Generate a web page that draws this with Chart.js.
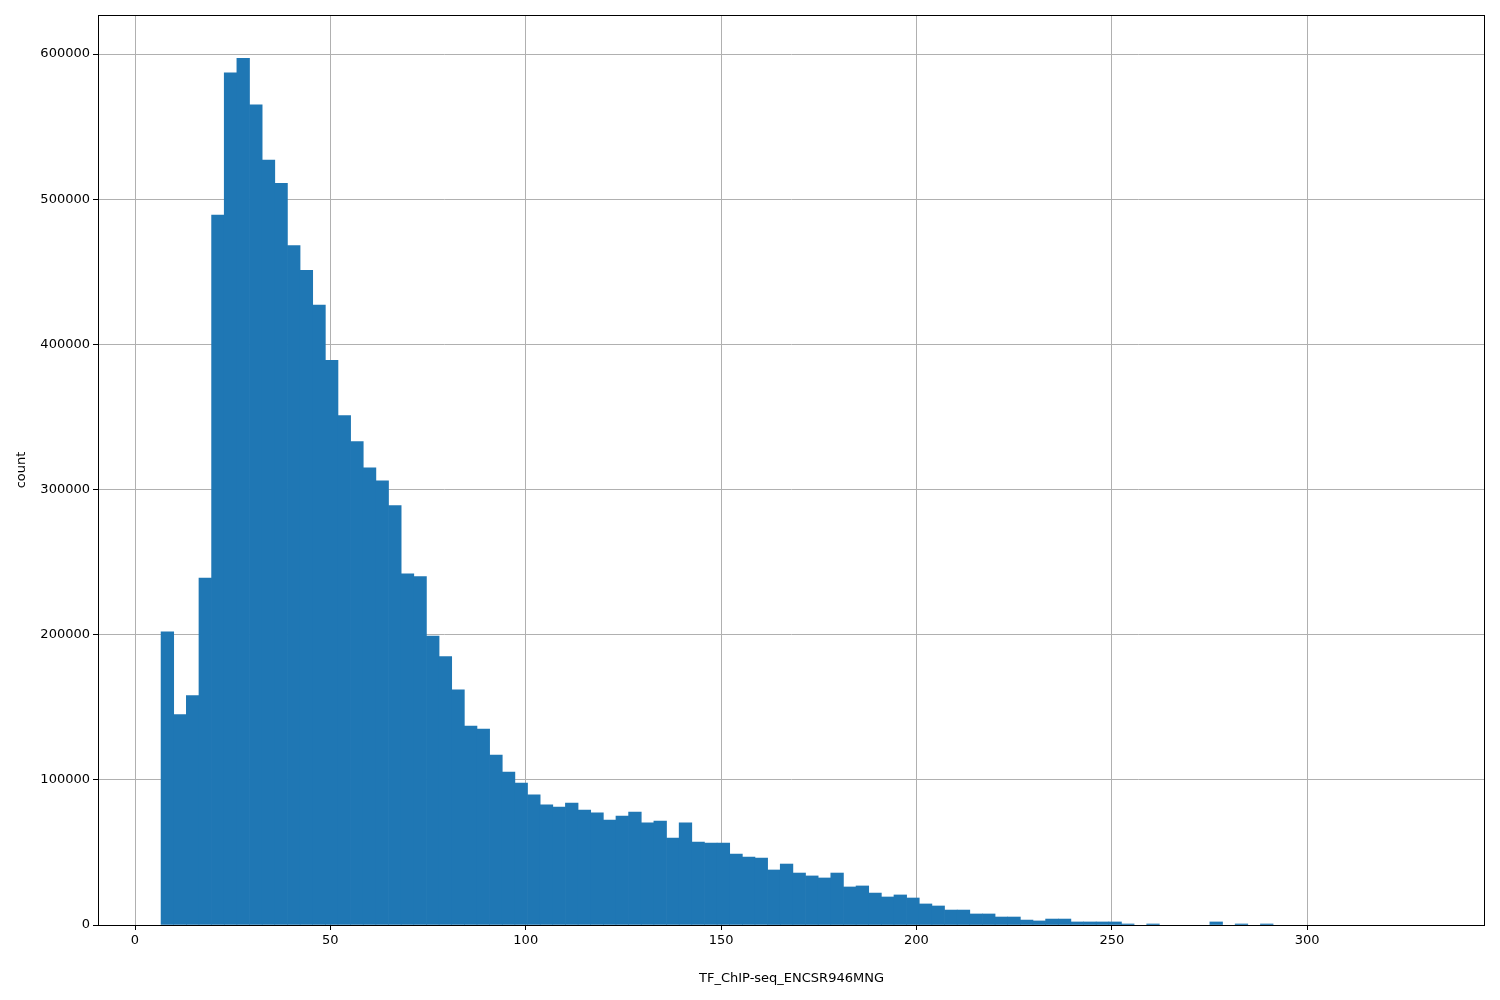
<!DOCTYPE html>
<html>
<head>
<script src="https://cdn.jsdelivr.net/npm/chart.js@4"></script>
<style>
  body { margin: 0; background: #fff; }
  #wrap { width: 1500px; height: 1000px; }
</style>
</head>
<body>
<div id="wrap"><canvas id="histChart"></canvas></div>
<script>
// histogram: 100 bins starting at binStart, each binWidth wide
const binStart = 6.67;
const binWidth = 3.234;
const counts = [
  202000, 145000, 158000, 239000, 489000, 587000, 597000, 565000, 527000, 511000,
  468000, 451000, 427000, 389000, 351000, 333000, 315000, 306000, 289000, 242000,
  240000, 199000, 185000, 162000, 137000, 135000, 117000, 105400, 97800, 89600,
  82700, 81300, 84000, 79200, 77200, 72300, 75100, 77800, 70300, 71600,
  59900, 70300, 57200, 56500, 56500, 48900, 46800, 46100, 37900, 42000,
  35800, 33800, 32400, 35800, 26200, 26900, 22000, 19300, 20700, 18600,
  14500, 13100, 10300, 10300, 7600, 7600, 5500, 5500, 3400, 2800,
  4100, 4100, 2100, 2100, 2100, 2100, 700, 0, 700, 0,
  0, 0, 0, 2100, 0, 700, 0, 700, 0, 0,
  0, 0, 0, 0, 0, 0, 0, 0, 0, 0
];
const xTicks = [0, 50, 100, 150, 200, 250, 300];
const yTicks = [0, 100000, 200000, 300000, 400000, 500000, 600000];

const font = { family: 'DejaVu Sans', size: 13 };

const frame = {
  id: 'frame',
  afterDraw(chart) {
    const { ctx, chartArea: a } = chart;
    ctx.save();
    ctx.strokeStyle = '#000';
    ctx.lineWidth = 1;
    ctx.strokeRect(a.left + 0.5, a.top + 0.5, a.right - a.left - 1, a.bottom - a.top);
    ctx.restore();
  }
};

new Chart(document.getElementById('histChart'), {
  type: 'bar',
  data: {
    datasets: [{
      data: counts.map((c, i) => ({ x: binStart + (i + 0.5) * binWidth, y: c || null })),
      backgroundColor: '#1f77b4',
      barPercentage: 1,
      categoryPercentage: 1,
      grouped: false
    }]
  },
  options: {
    responsive: true,
    maintainAspectRatio: false,
    animation: false,
    layout: { padding: { top: 15, right: 15, left: 10, bottom: 10 } },
    plugins: { legend: { display: false }, tooltip: { enabled: false } },
    scales: {
      x: {
        type: 'linear',
        offset: false,
        min: -9.47,
        max: 345.5,
        afterBuildTicks: s => { s.ticks = xTicks.map(v => ({ value: v })); },
        afterFit: s => { s.height = 65; },
        grid: { color: '#b0b0b0', tickColor: '#000', tickLength: 5, offset: false },
        border: { display: false },
        ticks: { color: '#000', font, maxRotation: 0, callback: v => String(v) },
        title: { display: true, text: 'TF_ChIP-seq_ENCSR946MNG', color: '#000', font, padding: { top: 4 } }
      },
      y: {
        min: 0,
        max: 626900,
        afterBuildTicks: s => { s.ticks = yTicks.map(v => ({ value: v })); },
        afterFit: s => { s.width = 88; },
        grid: { color: '#b0b0b0', tickColor: '#000', tickLength: 5 },
        border: { display: false },
        ticks: { color: '#000', font, callback: v => String(v) },
        title: { display: true, text: 'count', color: '#000', font, padding: { bottom: 4 } }
      }
    }
  },
  plugins: [frame]
});
</script>
</body>
</html>
